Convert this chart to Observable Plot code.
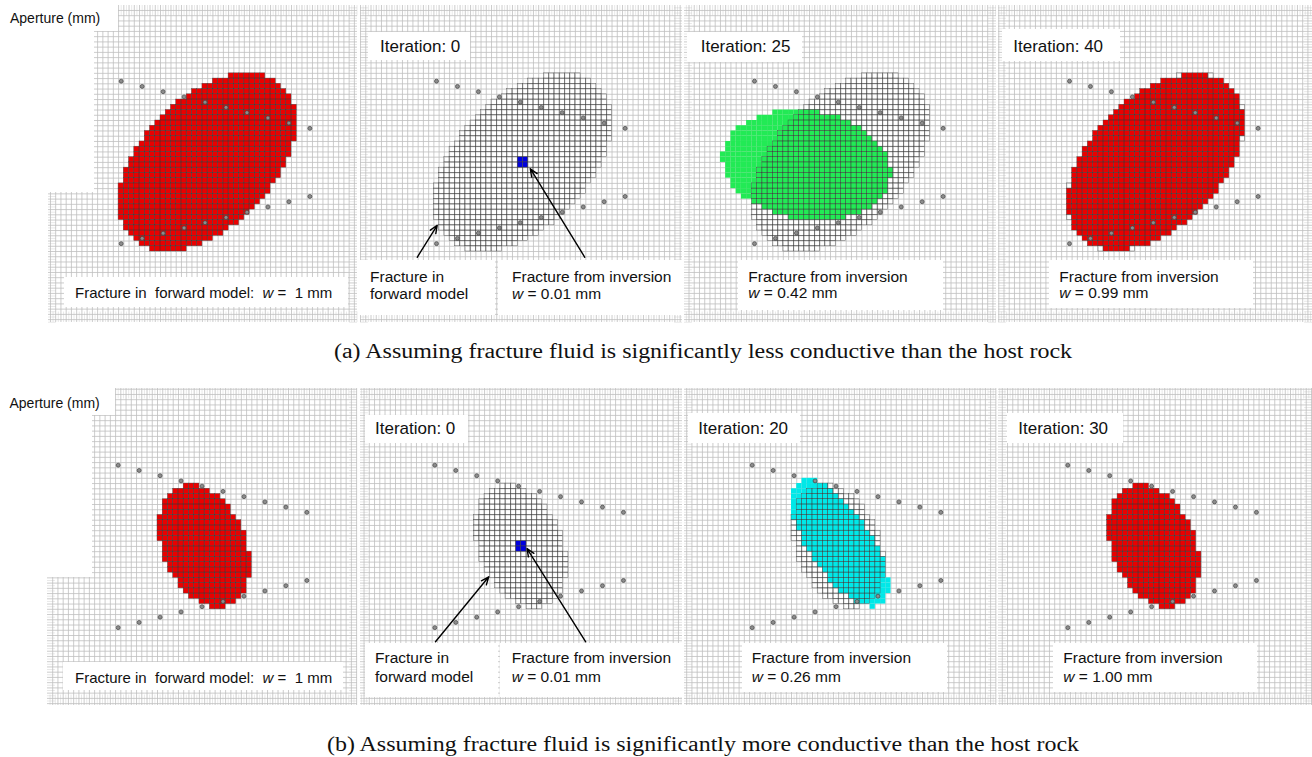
<!DOCTYPE html>
<html>
<head>
<meta charset="utf-8">
<script src="https://cdn.jsdelivr.net/npm/d3@7"></script>
<script src="https://cdn.jsdelivr.net/npm/@observablehq/plot@0.6"></script>
<style>
  body { margin: 0; background: #fff; }
  #fig { position: relative; width: 1312px; height: 757px; overflow: hidden; background: #fff; }
  #fig .panel { position: absolute; }
  #fig svg.overlay { position: absolute; left: 0; top: 0; }
</style>
</head>
<body>
<div id="fig"></div>
<script>
// ---------------- data ----------------
// Electrodes (mesh cell units, relative to the first electrode of the upper line)
const electrodeCol = [0, 4, 8, 12, 16, 20, 24, 28, 32, 36];
const electrodeRowUpper = [0, 1, 2, 3, 4, 5, 6, 7, 8, 9];
const electrodeRowLower = [31, 30, 29, 28, 27, 26, 25, 24, 23, 22];

// Elliptical fracture patches on the mesh: centre, semi-axes (cells) and tilt (deg, clockwise)
const fractureKey       = ["a-forward", "a-iter25", "a-iter40", "b-forward", "b-iter20", "b-iter30"];
const fractureCol       = [16.5, 10.0, 16.5, 16.5, 16.8, 16.5];
const fractureRow       = [15.5, 16.1, 15.5, 15.5, 14.9, 15.5];
const fractureSemiMajor = [20.4, 16.2, 20.3, 12.3, 14.2, 12.3];
const fractureSemiMinor = [12.5, 10.3, 12.4, 8.0, 5.9, 8.0];
const fractureTilt      = [-45, 8, -45, 66.7, 55.6, 66.7];

// Starting model of the inversion: a 2 x 2 block of cells
const seedCols = [16, 17];
const seedRows = [15, 16];

// Panel texts
const iterations = [["", "0", "25", "40"], ["", "0", "20", "30"]];
const apertures  = [["1", "0.01", "0.42", "0.99"], ["1", "0.01", "0.26", "1.00"]];
const captions = [
  "(a) Assuming fracture fluid is significantly less conductive than the host rock",
  "(b) Assuming fracture fluid is significantly more conductive than the host rock"
];

// Annotation arrows in the iteration-0 panel of each row: label -> fracture (cell units)
const arrowFromCol = [[-3.68, 28.3], [0.13, 28.8]];
const arrowFromRow = [[33.6, 33.6], [33.7, 33.7]];
const arrowToCol   = [[0.13, 17.9], [10.3, 17.6]];
const arrowToRow   = [[27.5, 16.7], [21.3, 15.9]];

// ---------------- layout ----------------
const cell = 5.24;                       // px per mesh cell
const rowTop = [5, 388], rowBottom = [322, 705], rowRefY = [80.7, 464.7];
const panelLeft  = [[48, 360, 684, 998], [47, 360, 684, 998]];
const panelRight = [[357, 682, 996, 1312], [357, 682, 996, 1312]];
const panelRefX  = [[120.7, 436, 754, 1069], [117.7, 434.3, 751.7, 1067.3]];
const cutRight = [94, 92], cutBottom = [192, 577];
const edgeBand = 2;                      // refined boundary band, in cells

const gridColor = "#bfbfbf";
const fillColors = { red: "#ea0000", green: "#22ea55", cyan: "#00e8e8", blue: "#0000e0" };

// rasterise an elliptical patch onto the mesh (cell centres at integer positions)
function patchCells(k) {
  const t = fractureTilt[k] * Math.PI / 180, c = Math.cos(t), s = Math.sin(t);
  const a = fractureSemiMajor[k], b = fractureSemiMinor[k];
  const cx = fractureCol[k], cy = fractureRow[k], R = Math.ceil(a) + 1;
  const out = [];
  for (let j = Math.floor(cy - R); j <= Math.ceil(cy + R); j++) {
    for (let i = Math.floor(cx - R); i <= Math.ceil(cx + R); i++) {
      const dx = i - cx, dy = j - cy;
      const u = (dx * c + dy * s) / a, v = (-dx * s + dy * c) / b;
      if (u * u + v * v <= 1) out.push({ i, j });
    }
  }
  return out;
}

const electrodes = electrodeCol.flatMap((c, k) => [
  { col: c, row: electrodeRowUpper[k] },
  { col: c, row: electrodeRowLower[k] }
]);
const seed = seedCols.flatMap(i => seedRows.map(j => ({ i, j })));

const cellRect = (data, opts) => Plot.rect(data, {
  x1: d => d.i - 0.5, x2: d => d.i + 0.5, y1: d => d.j - 0.5, y2: d => d.j + 0.5, ...opts
});

const fig = document.getElementById("fig");

const rowSets = [
  { forward: 0, inverted: [1, 2], colors: ["green", "red"] },
  { forward: 3, inverted: [4, 5], colors: ["cyan", "red"] }
];

for (let r = 0; r < 2; r++) {
  const forwardCells = patchCells(rowSets[r].forward);
  for (let p = 0; p < 4; p++) {
    const L = panelLeft[r][p], Rr = panelRight[r][p], T = rowTop[r], B = rowBottom[r];
    const ex = panelRefX[r][p], ey = rowRefY[r];
    const x0 = (L - ex) / cell, x1 = (Rr - ex) / cell;
    const y0 = (T - ey) / cell, y1 = (B - ey) / cell;
    const gx = d3.range(Math.ceil(x0 - 0.5) + 0.5, x1, 1);
    const gy = d3.range(Math.ceil(y0 - 0.5) + 0.5, y1, 1);
    // finer lines in the refined band along the mesh boundary
    const fx = d3.range(Math.ceil(x0), x1, 1);
    const fy = d3.range(Math.ceil(y0), y1, 1);
    const gridStyle = { stroke: gridColor, strokeWidth: 0.8 };
    const fineStyle = { stroke: gridColor, strokeWidth: 0.6, strokeOpacity: 0.6 };

    const marks = [
      Plot.ruleX(gx, { x: d => d, y1: () => y0, y2: () => y1, ...gridStyle }),
      Plot.ruleY(gy, { y: d => d, x1: () => x0, x2: () => x1, ...gridStyle }),
      Plot.ruleX(fx, { x: d => d, y1: () => y0, y2: () => y0 + edgeBand, ...fineStyle }),
      Plot.ruleX(fx, { x: d => d, y1: () => y1 - edgeBand, y2: () => y1, ...fineStyle }),
      Plot.ruleY(fy, { y: d => d, x1: () => x0, x2: () => x0 + edgeBand * 0.75, ...fineStyle }),
      Plot.ruleY(fy, { y: d => d, x1: () => x1 - edgeBand * 0.75, x2: () => x1, ...fineStyle })
    ];
    if (p === 0) {
      marks.push(Plot.rect([0], {
        x1: () => x0, x2: () => (cutRight[r] - ex) / cell,
        y1: () => y0, y2: () => (cutBottom[r] - ey) / cell, fill: "white"
      }));
      marks.push(cellRect(forwardCells, { fill: fillColors.red }));
    } else if (p === 1) {
      marks.push(cellRect(seed, { fill: fillColors.blue }));
    } else {
      const k = rowSets[r].inverted[p - 2];
      marks.push(cellRect(patchCells(k), { fill: fillColors[rowSets[r].colors[p - 2]] }));
    }
    // cells of the fracture in the forward model, outlined
    marks.push(cellRect(forwardCells, {
      fill: "none", stroke: "#3a3a3a", strokeWidth: 0.5, strokeOpacity: 0.75
    }));
    marks.push(Plot.dot(electrodes, {
      x: "col", y: "row", r: 2, fill: "#8c8c8c", stroke: "#444", strokeWidth: 0.7
    }));
    if (p === 1) {
      const arrows = [0, 1].map(k => ({
        x1: arrowFromCol[r][k], y1: arrowFromRow[r][k], x2: arrowToCol[r][k], y2: arrowToRow[r][k]
      }));
      marks.push(Plot.arrow(arrows, {
        x1: "x1", y1: "y1", x2: "x2", y2: "y2", stroke: "#000", strokeWidth: 1.4,
        headLength: 9, headAngle: 45
      }));
    }

    const chart = Plot.plot({
      width: Rr - L, height: B - T, margin: 0,
      x: { domain: [x0, x1], axis: null },
      y: { domain: [y0, y1], reverse: true, axis: null },
      style: { background: "transparent", overflow: "visible" },
      marks
    });
    const holder = document.createElement("div");
    holder.className = "panel";
    holder.style.left = L + "px";
    holder.style.top = T + "px";
    holder.appendChild(chart);
    fig.appendChild(holder);
  }
}

// ---------------- labels and captions ----------------
const overlay = d3.select(fig).append("svg")
  .attr("class", "overlay").attr("width", 1312).attr("height", 757);

const sans = "'Liberation Sans', Arial, sans-serif";
const labelBoxes = [];
for (let r = 0; r < 2; r++) {
  const aW = apertures[r];
  if (r === 0) {
    labelBoxes.push({ x: 0, y: 0, w: 118, h: 31, size: 14, lines: [[10, 22.5, "Aperture (mm)"]] });
    labelBoxes.push({ x: 64, y: 277, w: 284, h: 30, size: 15, lines: [[75, 298.3, "Fracture in\u00a0 forward model:\u00a0 |w| =\u00a0 " + aW[0] + " mm"]] });
    labelBoxes.push({ x: 368, y: 32, w: 102, h: 28, size: 17, lines: [[380, 51.7, "Iteration: " + iterations[r][1]]] });
    labelBoxes.push({ x: 358, y: 260, w: 137, h: 55, size: 15.5, lines: [[370, 281.7, "Fracture in"], [370, 299, "forward model"]] });
    labelBoxes.push({ x: 498, y: 260, w: 185, h: 55, size: 15.5, lines: [[512, 281.7, "Fracture from inversion"], [512, 299, "|w| = " + aW[1] + " mm"]] });
    labelBoxes.push({ x: 687, y: 32, w: 115, h: 30, size: 17, lines: [[700.7, 51.7, "Iteration: " + iterations[r][2]]] });
    labelBoxes.push({ x: 738, y: 260, w: 205, h: 50, size: 15.5, lines: [[748.3, 281.7, "Fracture from inversion"], [748.3, 298.3, "|w| = " + aW[2] + " mm"]] });
    labelBoxes.push({ x: 1002, y: 29, w: 118, h: 32, size: 17, lines: [[1013.3, 51.7, "Iteration: " + iterations[r][3]]] });
    labelBoxes.push({ x: 1049, y: 260, w: 204, h: 48, size: 15.5, lines: [[1059.3, 281.7, "Fracture from inversion"], [1059.3, 298.3, "|w| = " + aW[3] + " mm"]] });
  } else {
    labelBoxes.push({ x: 0, y: 388, w: 115, h: 27, size: 14, lines: [[9.5, 407.7, "Aperture (mm)"]] });
    labelBoxes.push({ x: 63, y: 662, w: 280, h: 28, size: 15, lines: [[75, 682.7, "Fracture in\u00a0 forward model:\u00a0 |w| =\u00a0 " + aW[0] + " mm"]] });
    labelBoxes.push({ x: 365, y: 415, w: 103, h: 28, size: 17, lines: [[375, 434.3, "Iteration: " + iterations[r][1]]] });
    labelBoxes.push({ x: 365, y: 643, w: 133, h: 54, size: 15.5, lines: [[375, 663.3, "Fracture in"], [375, 681.7, "forward model"]] });
    labelBoxes.push({ x: 500, y: 643, w: 183, h: 54, size: 15.5, lines: [[511.7, 663.3, "Fracture from inversion"], [511.7, 681.7, "|w| = " + aW[1] + " mm"]] });
    labelBoxes.push({ x: 688, y: 413, w: 112, h: 30, size: 17, lines: [[698.3, 434, "Iteration: " + iterations[r][2]]] });
    labelBoxes.push({ x: 742, y: 643, w: 205, h: 49, size: 15.5, lines: [[751.7, 663.3, "Fracture from inversion"], [751.7, 681.7, "|w| = " + aW[2] + " mm"]] });
    labelBoxes.push({ x: 1007, y: 413, w: 116, h: 30, size: 17, lines: [[1018.3, 434, "Iteration: " + iterations[r][3]]] });
    labelBoxes.push({ x: 1053, y: 643, w: 204, h: 49, size: 15.5, lines: [[1063.3, 663.3, "Fracture from inversion"], [1063.3, 681.7, "|w| = " + aW[3] + " mm"]] });
  }
}

for (const b of labelBoxes) {
  overlay.append("rect").attr("x", b.x).attr("y", b.y).attr("width", b.w).attr("height", b.h).attr("fill", "#fff");
  for (const [x, y, str] of b.lines) {
    const t = overlay.append("text").attr("x", x).attr("y", y)
      .attr("font-family", sans).attr("font-size", b.size).attr("fill", "#111")
      .attr("xml:space", "preserve");
    // segments wrapped in |...| are set in italics (the aperture symbol w)
    str.split("|").forEach((seg, i) => {
      if (!seg) return;
      const ts = t.append("tspan").text(seg);
      if (i % 2 === 1) ts.attr("font-style", "italic");
    });
  }
}

const captionStart = [334, 327], captionBaseline = [358, 750.5], captionLength = [738, 752];
captions.forEach((c, r) => {
  overlay.append("text").attr("x", captionStart[r]).attr("y", captionBaseline[r])
    .attr("font-family", "'Liberation Serif', 'Times New Roman', serif")
    .attr("font-size", 20).attr("fill", "#111")
    .attr("textLength", captionLength[r]).attr("lengthAdjust", "spacingAndGlyphs")
    .text(c);
});
</script>
</body>
</html>
